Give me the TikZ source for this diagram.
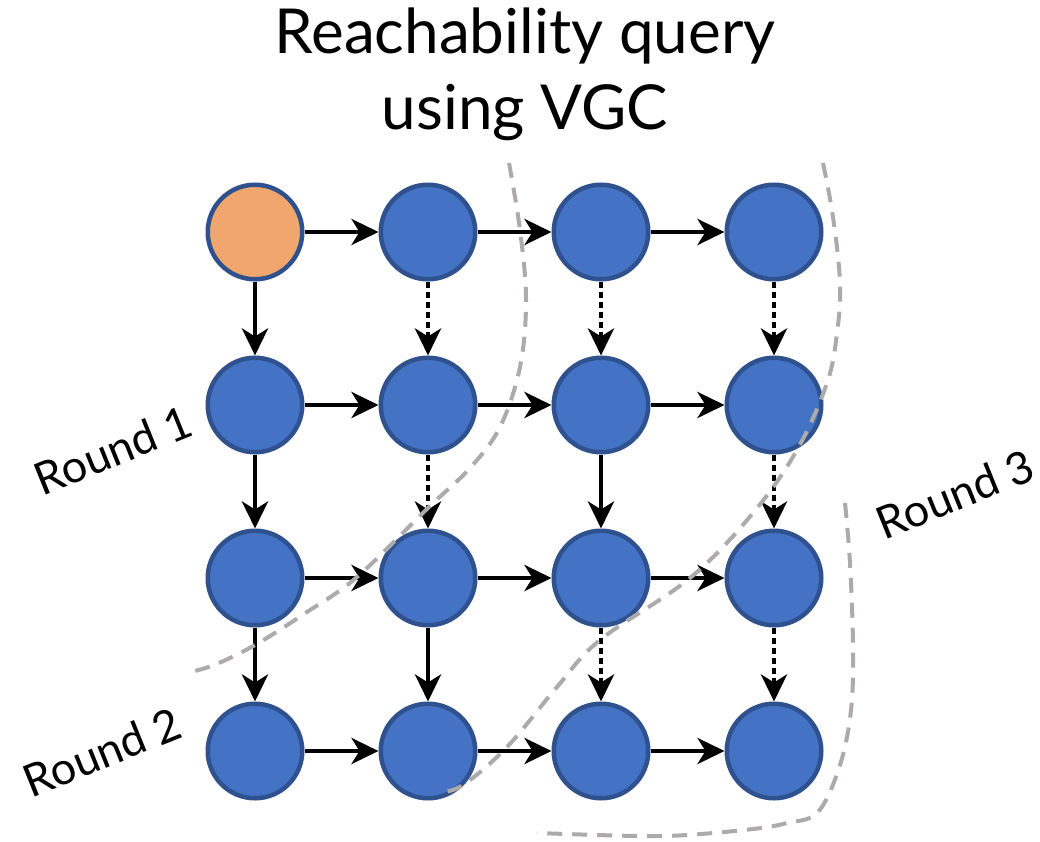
\documentclass[tikz,border=0pt]{standalone}
\usepackage{fontspec}
\setmainfont{Lato}
\usetikzlibrary{arrows.meta}
\definecolor{nodeblue}{RGB}{68,114,196}
\definecolor{nodeedge}{RGB}{47,82,143}
\definecolor{startfill}{RGB}{241,166,110}
\definecolor{roundgray}{RGB}{172,170,170}
\tikzset{
  vertex/.style={circle, draw=nodeedge, fill=nodeblue, line width=4.5pt, minimum size=94.5pt, inner sep=0pt},
  source/.style={vertex, fill=startfill},
  edge/.style={line width=4.6pt, -{Stealth[length=27pt,width=26pt,inset=8pt]}},
  dotedge/.style={edge, dash pattern=on 6pt off 4pt},
  roundline/.style={draw=roundgray, line width=4pt, dash pattern=on 15pt off 10pt},
  roundlabel/.style={font=\fontsize{45}{54}\selectfont, rotate=22, inner sep=0pt},
}
\begin{document}
\begin{tikzpicture}[x=1pt,y=-1pt]
\useasboundingbox (0,0) rectangle (1040,842);

% title
\node[align=center, font=\fontsize{62}{76}\selectfont, inner sep=0pt] (title) at (525,74)
  {Reachability query\\using VGC};

% grid of vertices
\foreach \r/\y in {1/232,2/405,3/578,4/751}{
  \foreach \c/\x in {1/255,2/428,3/601,4/774}{
    \ifnum\r\c=11
      \node[source] (n\r\c) at (\x,\y) {};
    \else
      \node[vertex] (n\r\c) at (\x,\y) {};
    \fi
  }
}

% horizontal edges
\foreach \r in {1,2,3,4}{
  \draw[edge] (n\r1) -- (n\r2);
  \draw[edge] (n\r2) -- (n\r3);
  \draw[edge] (n\r3) -- (n\r4);
}

% vertical edges
\draw[edge] (n11) -- (n21);
\draw[edge] (n21) -- (n31);
\draw[edge] (n31) -- (n41);
\draw[dotedge] (n12) -- (n22);
\draw[dotedge] (n22) -- (n32);
\draw[edge] (n32) -- (n42);
\draw[dotedge] (n13) -- (n23);
\draw[edge] (n23) -- (n33);
\draw[dotedge] (n33) -- (n43);
\draw[dotedge] (n14) -- (n24);
\draw[dotedge] (n24) -- (n34);
\draw[dotedge] (n34) -- (n44);

% round boundaries
\draw[roundline] plot[smooth, tension=0.6] coordinates {
  (509,163) (520,230) (526,300) (520,367) (500,427) (470,468) (429,507)
  (357,577) (307,612) (255,645) (214,665) (186,673)};
\draw[roundline] plot[smooth, tension=0.6] coordinates {
  (823,163) (833,217) (840,283) (837,333) (827,383) (797,450) (753,513)
  (690,578) (600,640) (557,687) (507,747) (463,785) (438,793)};
\draw[roundline] plot[smooth, tension=0.6] coordinates {
  (845,503) (850,563) (853,647) (851,710) (840,765) (818,812) (787,823)
  (753,829) (687,835) (637,836) (537,833)};

% round labels
\node[roundlabel] (r1) at (113,450) {Round 1};
\node[roundlabel] (r2) at (102,752) {Round 2};
\node[roundlabel] (r3) at (955,494) {Round 3};
\end{tikzpicture}
\end{document}
